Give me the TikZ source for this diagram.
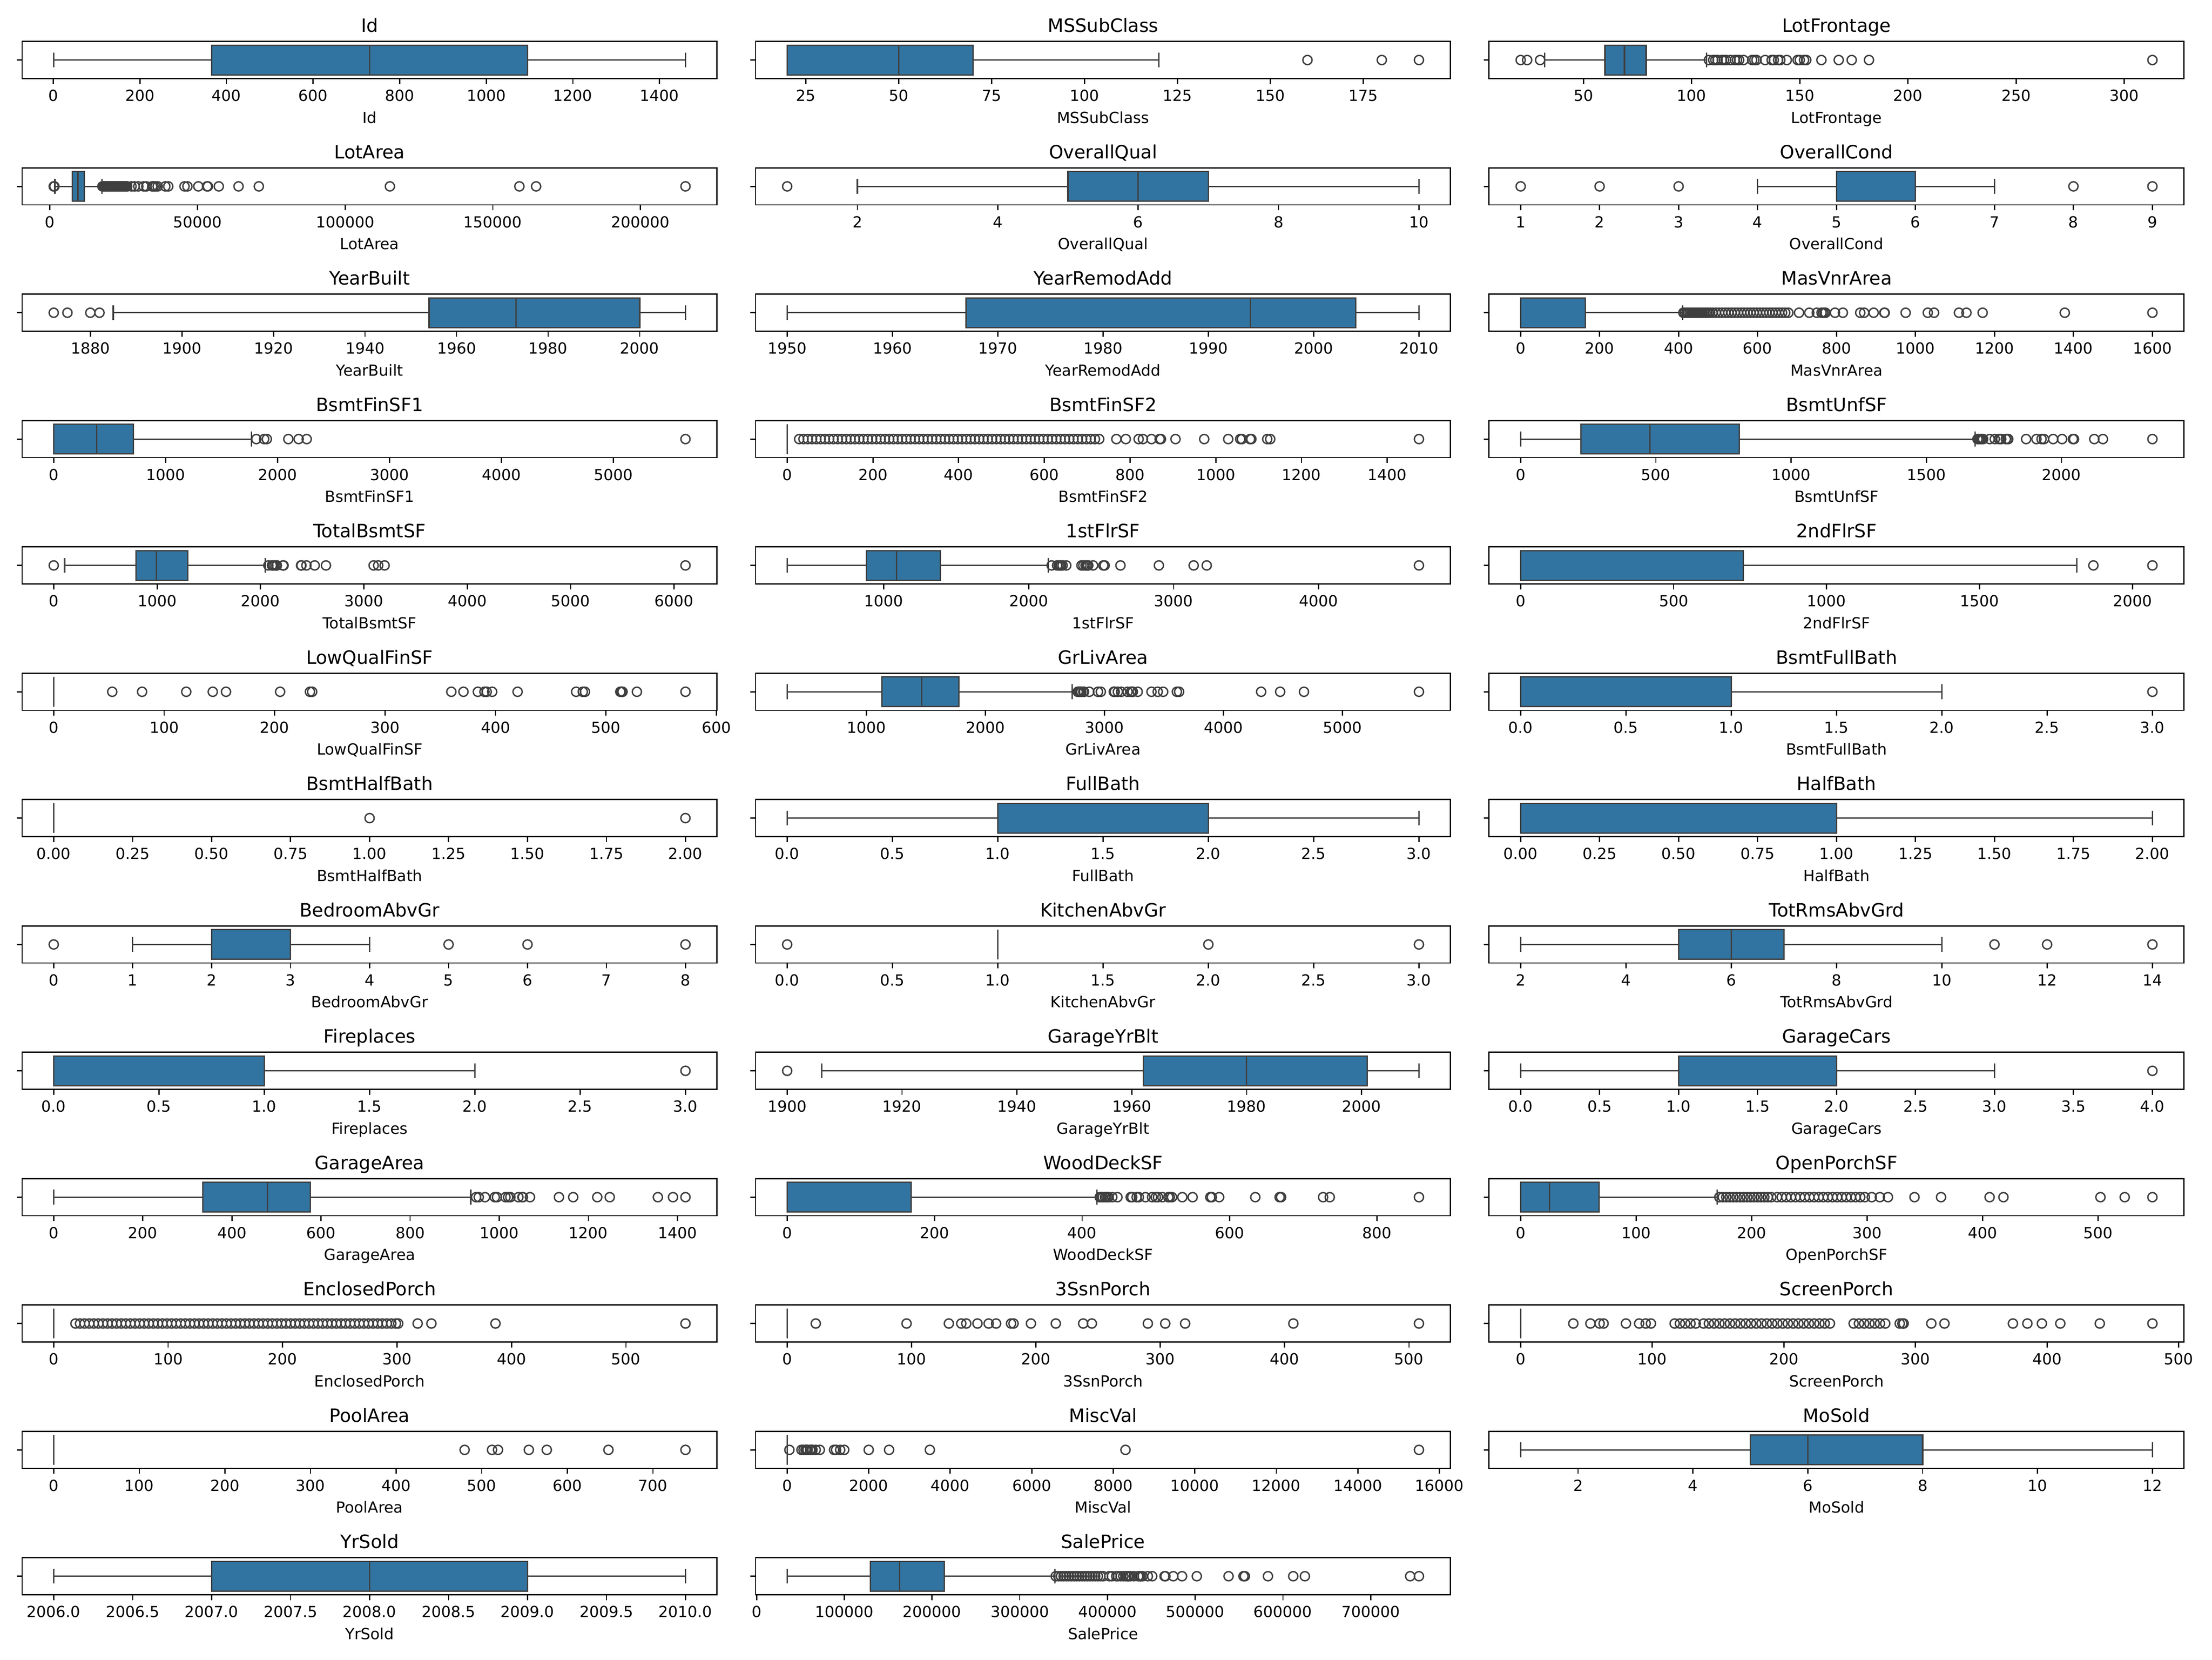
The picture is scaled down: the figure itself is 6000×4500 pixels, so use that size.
\documentclass[tikz,border=0pt]{standalone}
\usepackage{fontspec}
\setmainfont{DejaVu Sans}
\definecolor{sbblue}{RGB}{50,116,161}
\definecolor{sbgray}{RGB}{63,63,63}

% position of a data value inside the current panel
\newcommand\px[1]{\xo+1885*((#1-(\lo))/\rng)}
% frame, y tick, title and x label of one panel
\newcommand\panelaxis[5]{%
  \pgfmathsetmacro\xo{60+1989.5*#1}%
  \pgfmathsetmacro\yt{112.5+342.6*#2}%
  \pgfmathsetmacro\yb{\yt+100.5}%
  \pgfmathsetmacro\yc{\yt+50.25}%
  \pgfmathsetmacro\lo{#4-0.05*(#5-#4)}%
  \pgfmathsetmacro\rng{1.1*(#5-#4)}%
  \draw[frame] (\xo,\yt) rectangle ({\xo+1885},\yb);
  \draw[tickline] (\xo,\yc) -- ++(-14.6,0);
  \node[titlelabel] at ({\xo+942.5},{\yt-25.5}) {#3};
  \node[axislabel] at ({\xo+942.5},{\yb+121}) {#3};
}
\newcommand\xticks[1]{%
  \foreach \v in {#1}{%
    \draw[tickline] ({\px{\v}},\yb) -- ++(0,14.6);
    \node[ticklabel] at ({\px{\v}},{\yb+61.5}) {\v};
  }}
\newcommand\xtickpairs[1]{%
  \foreach \v/\l in {#1}{%
    \draw[tickline] ({\px{\v}},\yb) -- ++(0,14.6);
    \node[ticklabel] at ({\px{\v}},{\yb+61.5}) {\l};
  }}
% q1, median, q3, low whisker, high whisker
\newcommand\panelbox[5]{%
  \draw[whisker] ({\px{#4}},\yc) -- ({\px{#1}},\yc) ({\px{#3}},\yc) -- ({\px{#5}},\yc);
  \draw[whisker] ({\px{#4}},{\yc-20.1}) -- ({\px{#4}},{\yc+20.1})
                 ({\px{#5}},{\yc-20.1}) -- ({\px{#5}},{\yc+20.1});
  \draw[boxbody] ({\px{#1}},{\yc-40.2}) rectangle ({\px{#3}},{\yc+40.2});
  \draw[whisker] ({\px{#2}},{\yc-40.2}) -- ({\px{#2}},{\yc+40.2});
}
\newcommand\fliers[1]{%
  \foreach \v in {#1}{\draw[flier] ({\px{\v}},\yc) circle[radius=3bp];}}

\begin{document}
\begin{tikzpicture}[
  x=0.2409pt, y=-0.2409pt,
  frame/.style={draw=black, line width=0.8bp},
  tickline/.style={draw=black, line width=0.8bp},
  whisker/.style={draw=sbgray, line width=0.9bp},
  boxbody/.style={fill=sbblue, draw=sbgray, line width=0.9bp},
  flier/.style={draw=sbgray, line width=0.9bp},
  ticklabel/.style={anchor=base, inner sep=0pt, font=\fontsize{10}{12}\selectfont},
  axislabel/.style={anchor=base, inner sep=0pt, font=\fontsize{10}{12}\selectfont},
  titlelabel/.style={anchor=base, inner sep=0pt, font=\fontsize{12}{14}\selectfont}
]
\fill[white] (0,0) rectangle (6000,4500);
\useasboundingbox (0,0) rectangle (6000,4500);

% left column
\panelaxis{0}{0}{Id}{1}{1460}
\xticks{0,200,...,1400}
\panelbox{365.75}{730.5}{1095.25}{1}{1460}

\panelaxis{0}{1}{LotArea}{1.3}{215.245}
\xtickpairs{0/0,50/50000,100/100000,150/150000,200/200000}
\panelbox{7.5535}{9.4785}{11.6015}{1.68}{17.671}
\fliers{1.3,1.477,1.526,17.8,18.2,...,26.2,27.65,28.7,29.96,31.77,32.67,34.65,35.13,35.76,36.5,39.1,40.09,45.6,46.59,50.27,53.23,53.5,57.2,63.89,70.76,115.15,159,164.66,215.25}

\panelaxis{0}{2}{YearBuilt}{1872}{2010}
\xticks{1880,1900,...,2000}
\panelbox{1954}{1973}{2000}{1885}{2010}
\fliers{1872,1875,1880,1882}

\panelaxis{0}{3}{BsmtFinSF1}{0}{5644}
\xticks{0,1000,...,5000}
\panelbox{0}{383.5}{712.25}{0}{1767}
\fliers{1810,1880,1904,2096,2188,2260,5644}

\panelaxis{0}{4}{TotalBsmtSF}{0}{6110}
\xticks{0,1000,...,6000}
\panelbox{795.75}{991.5}{1298.25}{105}{2046}
\fliers{0,2076,2110,2121,2136,2153,2158,2217,2223,2392,2396,2444,2524,2633,3094,3138,3200,6110}

\panelaxis{0}{5}{LowQualFinSF}{0}{572}
\xticks{0,100,...,600}
\panelbox{0}{0}{0}{0}{0}
\fliers{53,80,120,144,156,205,232,234,360,371,384,390,392,397,420,473,479,481,513,514,515,528,572}

\panelaxis{0}{6}{BsmtHalfBath}{0}{2}
\xticks{0.00,0.25,0.50,0.75,1.00,1.25,1.50,1.75,2.00}
\panelbox{0}{0}{0}{0}{0}
\fliers{1,2}

\panelaxis{0}{7}{BedroomAbvGr}{0}{8}
\xticks{0,1,...,8}
\panelbox{2}{3}{3}{1}{4}
\fliers{0,5,6,8}

\panelaxis{0}{8}{Fireplaces}{0}{3}
\xticks{0.0,0.5,1.0,1.5,2.0,2.5,3.0}
\panelbox{0}{1}{1}{0}{2}
\fliers{3}

\panelaxis{0}{9}{GarageArea}{0}{1418}
\xticks{0,200,...,1400}
\panelbox{334.5}{480}{576}{0}{936}
\fliers{948,954,968,990,995,1014,1020,1025,1043,1052,1053,1069,1134,1166,1220,1248,1356,1390,1418}

\panelaxis{0}{10}{EnclosedPorch}{0}{552}
\xticks{0,100,...,500}
\panelbox{0}{0}{0}{0}{0}
\fliers{19,23,...,299,301,318,330,386,552}

\panelaxis{0}{11}{PoolArea}{0}{738}
\xticks{0,100,...,700}
\panelbox{0}{0}{0}{0}{0}
\fliers{480,512,519,555,576,648,738}

\panelaxis{0}{12}{YrSold}{2006}{2010}
\xticks{2006.0,2006.5,2007.0,2007.5,2008.0,2008.5,2009.0,2009.5,2010.0}
\panelbox{2007}{2008}{2009}{2006}{2010}

% middle column
\panelaxis{1}{0}{MSSubClass}{20}{190}
\xticks{25,50,...,175}
\panelbox{20}{50}{70}{20}{120}
\fliers{160,180,190}

\panelaxis{1}{1}{OverallQual}{1}{10}
\xticks{2,4,...,10}
\panelbox{5}{6}{7}{2}{10}
\fliers{1}

\panelaxis{1}{2}{YearRemodAdd}{1950}{2010}
\xticks{1950,1960,...,2010}
\panelbox{1967}{1994}{2004}{1950}{2010}

\panelaxis{1}{3}{BsmtFinSF2}{0}{1474}
\xticks{0,200,...,1400}
\panelbox{0}{0}{0}{0}{0}
\fliers{28,38,...,728,768,790,820,830,850,869,872,906,973,1029,1057,1061,1080,1083,1120,1127,1474}

\panelaxis{1}{4}{1stFlrSF}{334}{4692}
\xticks{1000,2000,3000,4000}
\panelbox{882}{1087}{1391.25}{334}{2136}
\fliers{2158,2196,2207,2217,2223,2234,2259,2364,2377,2392,2402,2411,2444,2515,2524,2633,2898,3138,3228,4692}

\panelaxis{1}{5}{GrLivArea}{334}{5642}
\xticks{1000,2000,...,5000}
\panelbox{1129.5}{1464}{1776.75}{334}{2727}
\fliers{2775,2784,2792,2794,2805,2822,2828,2872,2945,2969,3078,3082,3086,3112,3140,3194,3222,3228,3238,3279,3395,3447,3493,3608,3627,4316,4476,4676,5642}

\panelaxis{1}{6}{FullBath}{0}{3}
\xticks{0.0,0.5,1.0,1.5,2.0,2.5,3.0}
\panelbox{1}{2}{2}{0}{3}

\panelaxis{1}{7}{KitchenAbvGr}{0}{3}
\xticks{0.0,0.5,1.0,1.5,2.0,2.5,3.0}
\panelbox{1}{1}{1}{1}{1}
\fliers{0,2,3}

\panelaxis{1}{8}{GarageYrBlt}{1900}{2010}
\xticks{1900,1920,...,2000}
\panelbox{1962}{1980}{2001}{1906}{2010}
\fliers{1900}

\panelaxis{1}{9}{WoodDeckSF}{0}{857}
\xticks{0,200,...,800}
\panelbox{0}{0}{168}{0}{420}
\fliers{424,426,428,431,433,435,436,441,448,466,468,474,477,486,495,500,503,509,517,519,522,536,550,574,576,586,635,668,670,727,736,857}

\panelaxis{1}{10}{3SsnPorch}{0}{508}
\xticks{0,100,...,500}
\panelbox{0}{0}{0}{0}{0}
\fliers{23,96,130,140,144,153,162,168,180,182,196,216,238,245,290,304,320,407,508}

\panelaxis{1}{11}{MiscVal}{0}{1550}
\xtickpairs{0/0,200/2000,400/4000,600/6000,800/8000,1000/10000,1200/12000,1400/14000,1600/16000}
\panelbox{0}{0}{0}{0}{0}
\fliers{5.4,35,40,45,48,50,56,60,62,70,80,115,120,130,140,200,250,350,830,1550}

\panelaxis{1}{12}{SalePrice}{34.9}{755}
\xtickpairs{0/0,100/100000,200/200000,300/300000,400/400000,500/500000,600/600000,700/700000}
\panelbox{129.975}{163}{214}{34.9}{340}
\fliers{341,344,...,395,402,405,410,412,415,418,421,423,424,426,430,435,437,438,440,446,451,465,466,475,485,501.8,538,555,556.6,582.9,611.7,625,745,755}

% right column
\panelaxis{2}{0}{LotFrontage}{21}{313}
\xticks{50,100,...,300}
\panelbox{60}{69}{79}{32}{107}
\fliers{21,24,30,108,110,111,112,114,115,116,118,120,121,122,124,128,129,130,134,137,138,140,141,144,149,150,152,153,160,168,174,182,313}

\panelaxis{2}{1}{OverallCond}{1}{9}
\xticks{1,2,...,9}
\panelbox{5}{5}{6}{4}{7}
\fliers{1,2,3,8,9}

\panelaxis{2}{2}{MasVnrArea}{0}{1600}
\xticks{0,200,...,1600}
\panelbox{0}{0}{164}{0}{410}
\fliers{412,416,...,480,486,494,...,678,705,731,750,762,766,770,772,796,816,860,870,894,921,922,975,1031,1047,1110,1129,1170,1378,1600}

\panelaxis{2}{3}{BsmtUnfSF}{0}{2336}
\xticks{0,500,...,2000}
\panelbox{223}{477.5}{808}{0}{1680}
\fliers{1689,1694,1698,1702,1705,1710,1734,1753,1768,1774,1777,1794,1800,1803,1869,1907,1926,1935,1969,2002,2042,2046,2121,2153,2336}

\panelaxis{2}{4}{2ndFlrSF}{0}{2065}
\xticks{0,500,...,2000}
\panelbox{0}{0}{728}{0}{1818}
\fliers{1872,2065}

\panelaxis{2}{5}{BsmtFullBath}{0}{3}
\xticks{0.0,0.5,1.0,1.5,2.0,2.5,3.0}
\panelbox{0}{0}{1}{0}{2}
\fliers{3}

\panelaxis{2}{6}{HalfBath}{0}{2}
\xticks{0.00,0.25,0.50,0.75,1.00,1.25,1.50,1.75,2.00}
\panelbox{0}{0}{1}{0}{2}

\panelaxis{2}{7}{TotRmsAbvGrd}{2}{14}
\xticks{2,4,...,14}
\panelbox{5}{6}{7}{2}{10}
\fliers{11,12,14}

\panelaxis{2}{8}{GarageCars}{0}{4}
\xticks{0.0,0.5,1.0,1.5,2.0,2.5,3.0,3.5,4.0}
\panelbox{1}{2}{2}{0}{3}
\fliers{4}

\panelaxis{2}{9}{OpenPorchSF}{0}{547}
\xticks{0,100,...,500}
\panelbox{0}{25}{68}{0}{170}
\fliers{172,175,...,217,222,226,...,298,304,311,318,341,364,406,418,502,523,547}

\panelaxis{2}{10}{ScreenPorch}{0}{480}
\xticks{0,100,...,500}
\panelbox{0}{0}{0}{0}{0}
\fliers{40,53,60,63,80,90,95,99,117,121,...,133,139,143,...,235,253,257,...,277,288,290,291,312,322,374,385,396,410,440,480}

\panelaxis{2}{11}{MoSold}{1}{12}
\xticks{2,4,...,12}
\panelbox{5}{6}{8}{1}{12}
\end{tikzpicture}
\end{document}
